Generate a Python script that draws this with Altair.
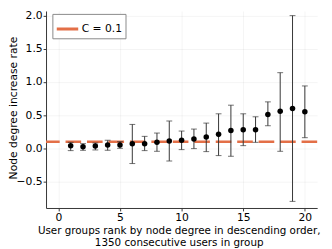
import altair as alt
import pandas as pd

rank = list(range(1, 21))
mean = [0.04, 0.025, 0.035, 0.05, 0.05, 0.07, 0.07, 0.09, 0.11, 0.12,
        0.14, 0.17, 0.21, 0.27, 0.28, 0.28, 0.51, 0.56, 0.60, 0.55]
upper = [0.09, 0.07, 0.08, 0.12, 0.10, 0.36, 0.18, 0.23, 0.41, 0.26,
         0.29, 0.38, 0.52, 0.65, 0.52, 0.475, 0.70, 1.14, 2.00, 0.94]
lower = [-0.035, -0.03, -0.025, -0.03, 0.0, -0.23, -0.035, -0.045, -0.19, -0.02,
         -0.005, -0.05, -0.11, -0.12, 0.04, 0.09, 0.34, -0.045, -0.80, 0.16]
c_value = [0.1]
c_label = ["C = 0.1"]

df = pd.DataFrame({"rank": rank, "mean": mean, "upper": upper, "lower": lower})
cdf = pd.DataFrame({"c": c_value, "label": c_label})

FONT = "DejaVu Sans"
xscale = alt.Scale(domain=[-1, 21], nice=False, zero=False)
yscale = alt.Scale(domain=[-0.9, 2.07], nice=False, zero=False)

xaxis = alt.Axis(values=[0, 5, 10, 15, 20], format="d",
                 title=["User groups rank by node degree in descending order,",
                        "1350 consecutive users in group"],
                 titleFontSize=10.6, titleFont=FONT, titleFontWeight="normal",
                 titleColor="#000", titleLineHeight=12, titlePadding=3,
                 titleX=136, titleAlign="center",
                 labelFontSize=11, labelFont=FONT, labelColor="#000", labelPadding=1,
                 tickSize=3, tickColor="#333", domainColor="#333",
                 gridColor="#000", gridOpacity=0.08, gridWidth=0.6)
yaxis = alt.Axis(values=[-0.5, 0, 0.5, 1.0, 1.5, 2.0], format=".1f",
                 title="Node degree increase rate",
                 titleFontSize=11, titleFont=FONT, titleFontWeight="normal",
                 titleColor="#000", titleAngle=-90, titleX=-33, titleY=99,
                 titleAlign="center", titleBaseline="middle",
                 labelFontSize=11, labelFont=FONT, labelColor="#000", labelPadding=1,
                 tickSize=3, tickColor="#333", domainColor="#333",
                 gridColor="#000", gridOpacity=0.08, gridWidth=0.6)

base = alt.Chart(df)

bars = base.mark_rule(color="#333", strokeWidth=1).encode(
    x=alt.X("rank:Q", scale=xscale, axis=xaxis),
    y=alt.Y("lower:Q", scale=yscale, axis=yaxis),
    y2="upper:Q",
)
cap_top = base.mark_tick(color="#333", thickness=1, size=6, orient="horizontal").encode(
    x=alt.X("rank:Q", scale=xscale), y=alt.Y("upper:Q", scale=yscale))
cap_bot = base.mark_tick(color="#333", thickness=1, size=6, orient="horizontal").encode(
    x=alt.X("rank:Q", scale=xscale), y=alt.Y("lower:Q", scale=yscale))

cline = alt.Chart(cdf).mark_rule(strokeDash=[16, 6], strokeWidth=2.5).encode(
    y=alt.Y("c:Q", scale=yscale),
    color=alt.Color("label:N",
                    scale=alt.Scale(domain=c_label, range=["#E36F47"]),
                    legend=alt.Legend(title=None, orient="none", legendX=6.5, legendY=3,
                                      symbolType="stroke", symbolSize=484,
                                      symbolStrokeWidth=3, symbolDash=[1, 0],
                                      labelFont=FONT, labelFontSize=11, labelColor="#000",
                                      labelOffset=2, padding=3,
                                      fillColor="white", strokeColor="#888")),
)

points = base.mark_point(filled=True, color="#000", opacity=1, size=32, shape="circle").encode(
    x=alt.X("rank:Q", scale=xscale), y=alt.Y("mean:Q", scale=yscale))

chart = alt.layer(cline, bars, cap_top, cap_bot, points).properties(
    width=278, height=202,
    padding={"left": 39, "top": 0, "right": 7, "bottom": 40},
    autosize=alt.AutoSizeParams(type="none"),
).configure_view(stroke=None).configure_axis(domainWidth=1)

chart.save("out.html", embed_options={"renderer": "svg", "actions": False})
